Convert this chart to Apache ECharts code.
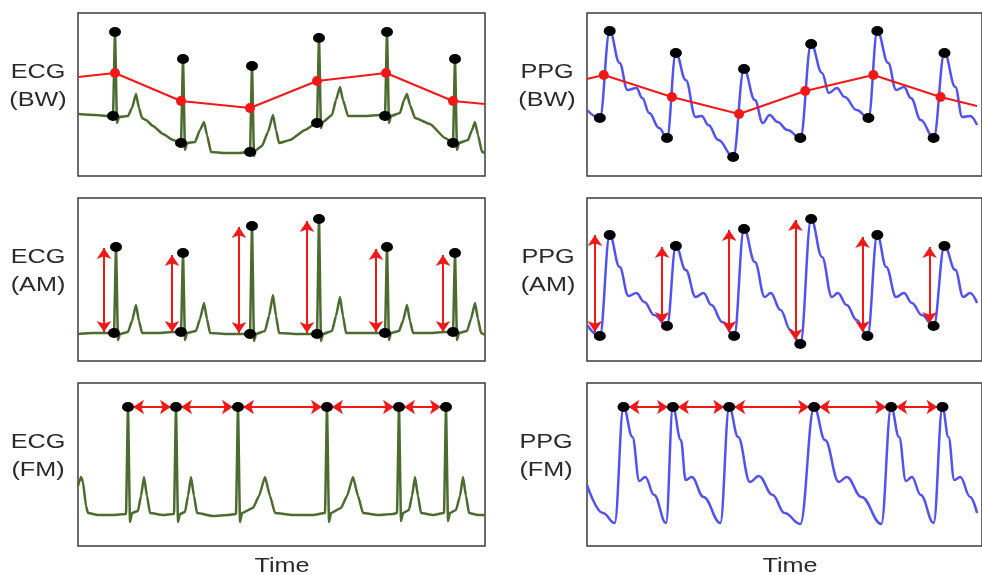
<!DOCTYPE html>
<html>
<head>
<meta charset="utf-8">
<script src="https://cdn.jsdelivr.net/npm/echarts@6/dist/echarts.min.js"></script>
<style>
html, body { margin: 0; padding: 0; background: #fff; }
#chart { width: 982px; height: 575px; }
</style>
</head>
<body>
<div id="chart"></div>
<script>
// all values are [time, amplitude] (arbitrary units)

// ---- ECG (BW) ----
var ecgBW = [[0,62],[17,61],[30,60],[35,60],[37,144],[39,53],[41,59],[50,60],[54,68],[58,82],[61,68],[64,58],[68,56],[75,50],[85,42],[95,36],[103,33],[105,117],[107,26],[109,33],[117,34],[122,46],[126,54],[129,41],[133,24],[147,23],[162,23],[170,24],[172,24],[174,110],[176,20],[178,26],[184,30],[190,44],[195,61],[198,46],[201,33],[212,36],[227,46],[237,52],[239,53],[241,138],[243,48],[245,54],[254,61],[258,76],[262,89],[265,76],[270,60],[287,60],[302,61],[307,60],[309,144],[311,53],[313,60],[322,63],[326,76],[329,82],[332,71],[337,58],[352,52],[367,38],[375,33],[377,117],[379,26],[381,33],[390,36],[394,46],[397,54],[400,41],[404,24],[407,23]];
var ecgBWTop = [[37,144],[105,117],[174,110],[241,138],[309,144],[377,117]];
var ecgBWBase = [[35,60],[103,33],[172,24],[239,53],[307,60],[375,33]];
var ecgBWResp = [[0,99],[37,103],[103,75],[172,68],[239,95],[308,103],[375,75],[407,72]];

// ---- PPG (BW) ----
var ppgBW = [[0,66],[13,58],[23,145],[33,113],[41,86],[50,88],[56,78],[63,63],[73,48],[81,38],[90,123],[100,96],[110,59],[116,60],[123,51],[133,36],[148,19],[159,107],[170,76],[178,53],[185,61],[193,54],[203,46],[216,38],[227,132],[238,103],[245,83],[253,88],[261,79],[273,66],[285,58],[294,145],[305,113],[313,86],[321,89],[328,78],[338,56],[351,38],[362,123],[373,89],[380,59],[388,60],[395,51]];
var ppgBWPeak = [[23,145],[90,123],[159,107],[227,132],[294,145],[362,123]];
var ppgBWTrough = [[13,58],[81,38],[148,19],[216,38],[285,58],[351,38]];
var ppgBWResp = [[0,97],[17,101],[86,79],[154,62],[221,85],[290,101],[358,79],[395,70]];

// ---- ECG (AM) ----
var ecgAM = [[0,27],[15,28],[30,28],[36,28],[38,114],[40,21],[42,27],[50,29],[54,40],[58,56],[61,40],[64,28],[80,28],[95,29],[103,29],[105,108],[107,21],[109,28],[118,30],[122,42],[126,58],[129,42],[132,28],[150,27],[165,27],[172,27],[174,135],[176,20],[178,27],[187,30],[191,45],[195,66],[198,45],[201,28],[220,27],[235,27],[239,27],[241,142],[243,20],[245,27],[254,30],[258,45],[262,64],[265,45],[268,28],[285,28],[300,28],[307,28],[309,114],[311,21],[313,28],[321,30],[325,40],[329,56],[332,40],[335,28],[352,28],[367,29],[375,29],[377,108],[379,21],[381,28],[389,30],[393,42],[397,58],[400,42],[403,28],[407,26]];
var ecgAMTop = [[38,114],[105,108],[174,135],[241,142],[309,114],[377,108]];
var ecgAMBase = [[36,28],[103,29],[172,27],[239,27],[307,28],[375,29]];
var ecgAMArrows = [[26,29,113],[94,29,106],[161,28,134],[229,28,140],[298,29,112],[365,29,106]];

// ---- PPG (AM) ----
var ppgAM = [[0,36],[13,25],[23,126],[33,94],[42,65],[50,68],[58,59],[68,46],[81,35],[90,115],[100,91],[110,64],[118,68],[126,56],[137,39],[149,25],[159,132],[170,99],[180,64],[186,68],[196,51],[206,31],[216,17],[227,142],[238,104],[248,64],[254,68],[263,56],[273,41],[284,25],[294,126],[303,94],[313,64],[321,68],[329,58],[339,46],[351,35],[362,115],[373,91],[381,64],[388,68],[395,58]];
var ppgAMPeak = [[23,126],[90,115],[159,132],[227,142],[294,126],[362,115]];
var ppgAMTrough = [[13,25],[81,35],[149,25],[216,17],[284,25],[351,35]];
var ppgAMArrows = [[8,29,126],[76,38,114],[144,29,131],[211,21,141],[279,29,124],[347,38,114]];

// ---- ECG (FM) ----
var ecgFM = [[0,60],[3,69],[5,64],[8,40],[10,33],[20,31],[35,31],[48,32],[50,139],[52,24],[54,33],[60,35],[63,50],[66,69],[69,50],[72,33],[85,31],[96,32],[98,139],[100,24],[102,32],[107,34],[110,50],[113,69],[116,50],[119,33],[135,30],[150,31],[158,32],[160,139],[162,24],[164,33],[175,38],[181,50],[187,69],[192,50],[197,33],[215,31],[235,31],[247,33],[249,139],[251,24],[253,33],[263,38],[269,50],[275,69],[280,50],[285,33],[300,31],[315,32],[319,33],[321,139],[323,25],[325,33],[331,36],[334,50],[337,69],[340,50],[343,33],[355,31],[366,33],[368,139],[370,25],[372,33],[378,36],[382,50],[385,69],[388,50],[391,33],[400,31],[407,31]];
var ecgFMPeak = [[50,139],[98,139],[160,139],[249,139],[321,139],[368,139]];

// ---- PPG (FM) ----
var ppgFM = [[0,61],[16,33],[28,23],[37,139],[46,109],[53,65],[59,69],[68,51],[80,23],[87,139],[95,106],[100,66],[106,69],[118,49],[135,23],[144,139],[153,109],[165,64],[174,70],[188,51],[200,33],[216,22],[230,139],[241,106],[255,64],[263,69],[278,49],[298,22],[308,139],[316,109],[323,65],[329,69],[338,51],[351,23],[360,139],[366,109],[372,66],[378,69],[388,49],[395,33]];
var ppgFMPeak = [[37,139],[87,139],[144,139],[230,139],[308,139],[360,139]];

var ecgColor = '#4b6b2f';
var ppgColor = '#5252f0';
var red = '#f21818';

var chart = echarts.init(document.getElementById('chart'));

// 3x2 panels: [left, top, width, xmax]
var panels = [
    [78, 13, 407, 407], [587, 13, 400, 400],
    [78, 198, 407, 407], [587, 198, 400, 400],
    [78, 383, 407, 407], [587, 383, 400, 400]
];

var grids = [], xAxes = [], yAxes = [];
panels.forEach(function (p, i) {
    grids.push({ left: p[0], top: p[1], width: p[2], height: 163, show: true,
        borderColor: '#3c3c3c', borderWidth: 1.5, backgroundColor: 'transparent' });
    xAxes.push({ type: 'value', gridIndex: i, min: 0, max: p[3], show: false });
    yAxes.push({ type: 'value', gridIndex: i, min: 0, max: 163, show: false });
});

function trace(i, data, color, smooth) {
    return { type: 'line', xAxisIndex: i, yAxisIndex: i, data: data, symbol: 'none',
        smooth: smooth, smoothMonotone: 'x',
        lineStyle: { color: color, width: 2.5, join: 'round' }, z: 2, silent: true };
}
function dots(i, data, color, size) {
    return { type: 'scatter', xAxisIndex: i, yAxisIndex: i, data: data, symbol: 'circle',
        symbolSize: size, itemStyle: { color: color, opacity: 1 }, z: 5, silent: true };
}
// red respiratory line, no dot where it leaves the panel
function resp(i, data) {
    var pts = data.map(function (d, k) {
        var edge = (k === 0 || k === data.length - 1);
        return edge ? { value: d, symbol: 'none' } : d;
    });
    return { type: 'line', xAxisIndex: i, yAxisIndex: i, data: pts, symbol: 'circle', symbolSize: 10,
        lineStyle: { color: red, width: 2 }, itemStyle: { color: red }, z: 3, silent: true };
}
function arrows(i, segs) {
    return { type: 'lines', coordinateSystem: 'cartesian2d', xAxisIndex: i, yAxisIndex: i,
        data: segs, symbol: ['arrow', 'arrow'], symbolSize: 11,
        lineStyle: { color: red, width: 2, opacity: 1 }, z: 4, silent: true };
}
// vertical amplitude arrows [t, low, high]
function vArrows(list) {
    return list.map(function (a) { return { coords: [[a[0], a[1]], [a[0], a[2]]] }; });
}
// horizontal interval arrows between consecutive peaks
function hArrows(peaks) {
    var out = [];
    for (var k = 0; k < peaks.length - 1; k++) {
        out.push({ coords: [[peaks[k][0] + 5, peaks[k][1]], [peaks[k + 1][0] - 5, peaks[k + 1][1]]] });
    }
    return out;
}

var series = [
    trace(0, ecgBW, ecgColor, 0.15),
    resp(0, ecgBWResp),
    dots(0, ecgBWTop, '#000', [12, 10]),
    dots(0, ecgBWBase, '#000', [12, 10]),

    trace(1, ppgBW, ppgColor, 0.4),
    resp(1, ppgBWResp),
    dots(1, ppgBWPeak, '#000', [12, 10]),
    dots(1, ppgBWTrough, '#000', [12, 10]),

    trace(2, ecgAM, ecgColor, 0.15),
    arrows(2, vArrows(ecgAMArrows)),
    dots(2, ecgAMTop, '#000', [12, 10]),
    dots(2, ecgAMBase, '#000', [12, 10]),

    trace(3, ppgAM, ppgColor, 0.4),
    arrows(3, vArrows(ppgAMArrows)),
    dots(3, ppgAMPeak, '#000', [12, 10]),
    dots(3, ppgAMTrough, '#000', [12, 10]),

    trace(4, ecgFM, ecgColor, 0.15),
    arrows(4, hArrows(ecgFMPeak)),
    dots(4, ecgFMPeak, '#000', [12, 10]),

    trace(5, ppgFM, ppgColor, 0.4),
    arrows(5, hArrows(ppgFMPeak)),
    dots(5, ppgFMPeak, '#000', [12, 10])
];

// row labels and axis names
var labels = [
    ['ECG\n(BW)', 38, 86], ['PPG\n(BW)', 547, 86],
    ['ECG\n(AM)', 38, 271], ['PPG\n(AM)', 548, 271],
    ['ECG\n(FM)', 38, 456], ['PPG\n(FM)', 546, 456],
    ['Time', 282, 566], ['Time', 790, 566]
];
var graphic = labels.map(function (l) {
    return { type: 'text', x: l[1], y: l[2], scaleX: 1.2, silent: true,
        style: { text: l[0], fill: '#2a2a2a', font: '21px "Liberation Sans", Arial, sans-serif',
            textAlign: 'center', textVerticalAlign: 'middle', lineHeight: 28 } };
});

chart.setOption({
    animation: false,
    backgroundColor: '#fff',
    grid: grids,
    xAxis: xAxes,
    yAxis: yAxes,
    series: series,
    graphic: graphic
});
</script>
</body>
</html>
